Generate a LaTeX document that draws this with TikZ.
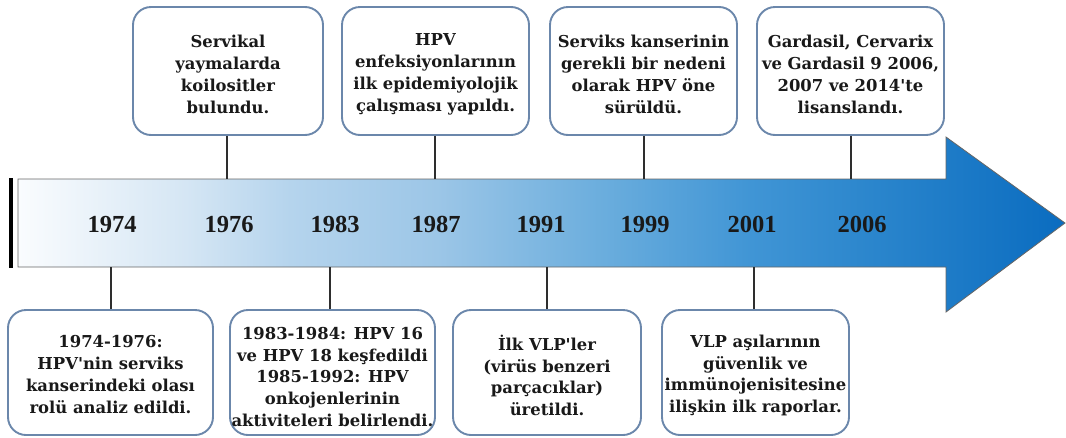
\documentclass[tikz,border=0pt]{standalone}
\usepackage{fontspec}
\newfontfamily\boxfont{DejaVu Serif}
\newfontfamily\yearfont{Liberation Serif}
\definecolor{bordercol}{HTML}{6B87AB}
\definecolor{linecol}{HTML}{2E2E2E}
\definecolor{g0}{HTML}{FAFCFE}
\definecolor{g1}{HTML}{D5E6F4}
\definecolor{g2}{HTML}{B5D4ED}
\definecolor{g3}{HTML}{9CC6E7}
\definecolor{g4}{HTML}{6AADDD}
\definecolor{g5}{HTML}{4095D5}
\definecolor{g6}{HTML}{2A85CC}
\definecolor{g7}{HTML}{0A6CC0}
\pgfdeclarehorizontalshading{tlshade}{100bp}{color(0bp)=(g0); color(25bp)=(g0); color(33bp)=(g1); color(38bp)=(g2); color(45bp)=(g3); color(53bp)=(g4); color(60bp)=(g5); color(66bp)=(g6); color(75bp)=(g7); color(100bp)=(g7)}
\tikzset{
  evbox/.style={draw=bordercol, line width=1.9pt, rounded corners=18pt, fill=white, inner sep=0pt},
  evtext/.style={align=center, inner sep=0pt, font=\boxfont\bfseries\fontsize{16.4}{21.8}\selectfont,
    text=black!90},
  yearlbl/.style={font=\yearfont\bfseries\fontsize{24.5}{28}\selectfont, text=black!90, inner sep=0pt, anchor=base},
  conn/.style={draw=linecol, line width=1.4pt}
}
\begin{document}
\begin{tikzpicture}[x=1pt,y=-1pt]
\useasboundingbox (0,0) rectangle (1066,437);
% arrow
\path[shading=tlshade, draw=black!60, line width=0.8pt]
  (18,179) -- (946,179) -- (946,137) -- (1065,223) -- (946,312) -- (946,267) -- (18,267) -- cycle;
\fill[black] (9,178) rectangle (13,268);
% years
\node[yearlbl] (y1974) at (112,232) {1974};
\node[yearlbl] (y1976) at (229,232) {1976};
\node[yearlbl] (y1983) at (335,232) {1983};
\node[yearlbl] (y1987) at (436,232) {1987};
\node[yearlbl] (y1991) at (541,232) {1991};
\node[yearlbl] (y1999) at (645,232) {1999};
\node[yearlbl] (y2001) at (752,232) {2001};
\node[yearlbl] (y2006) at (862,232) {2006};
% connector ends on arrow
\coordinate (k1) at (227,179);
\coordinate (k2) at (435,179);
\coordinate (k3) at (644,179);
\coordinate (k4) at (851,179);
\coordinate (k5) at (111,267);
\coordinate (k6) at (330,267);
\coordinate (k7) at (547,267);
\coordinate (k8) at (754,267);
% top boxes
\node[evbox, minimum width=190, minimum height=128] (b1) at (228,71) {};
\node[evbox, minimum width=187, minimum height=128] (b2) at (435.5,71) {};
\node[evbox, minimum width=187, minimum height=128] (b3) at (643.5,71) {};
\node[evbox, minimum width=187, minimum height=128] (b4) at (850.5,71) {};
% bottom boxes
\node[evbox, minimum width=205, minimum height=125] (b5) at (110.5,372.5) {};
\node[evbox, minimum width=205, minimum height=125] (b6) at (332.5,372.5) {};
\node[evbox, minimum width=188, minimum height=125] (b7) at (547,372.5) {};
\node[evbox, minimum width=187, minimum height=125] (b8) at (755.5,372.5) {};
% texts
\node[evtext] (t1) at ([yshift=-3.5pt]b1.center) {Servikal\\yaymalarda\\koilositler\\bulundu.};
\node[evtext] (t2) at ([yshift=-3.5pt]b2.center) {HPV\\enfeksiyonlarının\\ilk epidemiyolojik\\çalışması yapıldı.};
\node[evtext] (t3) at ([yshift=-3.5pt]b3.center) {Serviks kanserinin\\gerekli bir nedeni\\olarak HPV öne\\sürüldü.};
\node[evtext] (t4) at ([yshift=-3.5pt]b4.center) {Gardasil, Cervarix\\ve Gardasil 9 2006,\\2007 ve 2014'te\\lisanslandı.};
\node[evtext] (t5) at ([yshift=-2pt]b5.center) {1974-1976:\\HPV'nin serviks\\kanserindeki olası\\rolü analiz edildi.};
\node[evtext] (t6) at ([yshift=-4.5pt]b6.center) {1983-1984: HPV 16\\ve HPV 18 keşfedildi\\1985-1992: HPV\\onkojenlerinin\\aktiviteleri belirlendi.};
\node[evtext] (t7) at ([yshift=-3pt]b7.center) {İlk VLP'ler\\(virüs benzeri\\parçacıklar)\\üretildi.};
\node[evtext] (t8) at ([yshift=-3pt]b8.center) {VLP aşılarının\\güvenlik ve\\immünojenisitesine\\ilişkin ilk raporlar.};
% connectors
\draw[conn] (b1.south -| k1) -- (k1);
\draw[conn] (b2.south -| k2) -- (k2);
\draw[conn] (b3.south -| k3) -- (k3);
\draw[conn] (b4.south -| k4) -- (k4);
\draw[conn] (b5.north -| k5) -- (k5);
\draw[conn] (b6.north -| k6) -- (k6);
\draw[conn] (b7.north -| k7) -- (k7);
\draw[conn] (b8.north -| k8) -- (k8);
\end{tikzpicture}
\end{document}
